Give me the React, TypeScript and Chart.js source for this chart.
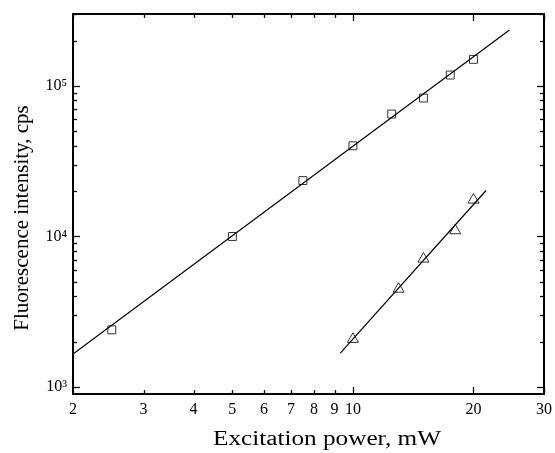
import React, { useEffect, useRef } from "react";
import { Chart, registerables } from "chart.js";

Chart.register(...registerables);

// ---- data ----
const squareX = [2.5, 5, 7.5, 10, 12.5, 15, 17.5, 20];
const squareY = [2400, 10000, 23500, 40000, 65000, 83000, 118000, 150000];
const triangleX = [10, 13, 15, 18, 20];
const triangleY = [2080, 4480, 7100, 10950, 17500];
const fit1X = [2, 24.6];
const fit1Y = [1660, 235000];
const fit2X = [9.3, 21.5];
const fit2Y = [1680, 20200];

// ---- axis ticks ----
const xLabels = [2, 3, 4, 5, 6, 7, 8, 9, 10, 20, 30];
const xMajor = [10, 20, 30];
const xMinor = [2, 3, 4, 5, 6, 7, 8, 9];
const yLabels = [1000, 10000, 100000];
const yMajor = [1000, 10000, 100000];
const yMinor = [
  2000, 3000, 4000, 5000, 6000, 7000, 8000, 9000,
  20000, 30000, 40000, 50000, 60000, 70000, 80000, 90000,
  200000, 300000,
];
const xTitle = "Excitation power, mW";
const yTitle = "Fluorescence intensity, cps";

const SUP: Record<string, string> = { "0": "⁰", "1": "¹", "2": "²", "3": "³", "4": "⁴", "5": "⁵", "6": "⁶", "7": "⁷", "8": "⁸", "9": "⁹" };
const FONT = "'Liberation Serif', 'Times New Roman', serif";

const pts = (xs: number[], ys: number[]) => xs.map((x, i) => ({ x, y: ys[i] }));

const frame = {
  id: "frameTicks",
  afterDraw(chart: any) {
    const { ctx, chartArea: a, scales } = chart;
    const xs = scales.x;
    const ys = scales.y;
    ctx.save();
    ctx.strokeStyle = "#000";
    ctx.lineWidth = 1.3;
    const tick = (x1: number, y1: number, x2: number, y2: number) => {
      ctx.beginPath();
      ctx.moveTo(x1, y1);
      ctx.lineTo(x2, y2);
      ctx.stroke();
    };
    xMajor.forEach((v) => {
      const p = Math.round(xs.getPixelForValue(v)) + 0.5;
      tick(p, a.bottom, p, a.bottom - 7);
      tick(p, a.top, p, a.top + 7);
    });
    xMinor.forEach((v) => {
      const p = Math.round(xs.getPixelForValue(v)) + 0.5;
      tick(p, a.bottom, p, a.bottom - 4);
      tick(p, a.top, p, a.top + 4);
    });
    yMajor.forEach((v) => {
      const p = Math.round(ys.getPixelForValue(v)) + 0.5;
      tick(a.left, p, a.left + 7, p);
      tick(a.right, p, a.right - 7, p);
    });
    yMinor.forEach((v) => {
      const p = Math.round(ys.getPixelForValue(v)) + 0.5;
      tick(a.left, p, a.left + 4, p);
      tick(a.right, p, a.right - 4, p);
    });
    ctx.lineWidth = 2;
    ctx.strokeRect(a.left, a.top, a.right - a.left, a.bottom - a.top);

    ctx.fillStyle = "#000";
    ctx.textAlign = "center";
    ctx.textBaseline = "middle";
    // x title (slightly wide lettering as in the reference)
    ctx.save();
    ctx.font = `20px ${FONT}`;
    const w = ctx.measureText(xTitle).width;
    const sx = 228 / w;
    ctx.translate(327, 440);
    ctx.scale(sx, 1);
    ctx.fillText(xTitle, 0, 0);
    ctx.restore();
    // y title
    ctx.font = `21px ${FONT}`;
    ctx.translate(22, 218);
    ctx.rotate(-Math.PI / 2);
    ctx.fillText(yTitle, 0, 0);
    ctx.restore();
  },
};

export default function App() {
  const ref = useRef<HTMLCanvasElement>(null);
  useEffect(() => {
    if (!ref.current) return;
    const chart = new Chart(ref.current, {
      type: "scatter",
      data: {
        datasets: [
          {
            type: "line",
            data: pts(fit1X, fit1Y),
            borderColor: "#000",
            borderWidth: 1.2,
            pointRadius: 0,
            fill: false,
          },
          {
            type: "line",
            data: pts(fit2X, fit2Y),
            borderColor: "#000",
            borderWidth: 1.2,
            pointRadius: 0,
            fill: false,
          },
          {
            data: pts(squareX, squareY),
            pointStyle: "rect",
            pointRadius: 5.6,
            borderColor: "#333",
            borderWidth: 1,
            backgroundColor: "rgba(0,0,0,0)",
            showLine: false,
          },
          {
            data: pts(triangleX, triangleY),
            pointStyle: "triangle",
            pointRadius: 6.4,
            borderColor: "#333",
            borderWidth: 1,
            backgroundColor: "rgba(0,0,0,0)",
            showLine: false,
          },
        ],
      },
      options: {
        animation: false,
        responsive: true,
        maintainAspectRatio: false,
        layout: { padding: { top: 14, right: 11, left: 0, bottom: 0 } },
        plugins: { legend: { display: false }, tooltip: { enabled: false } },
        scales: {
          x: {
            type: "logarithmic",
            min: 2,
            max: 30,
            grid: { display: false, drawTicks: false },
            border: { display: false },
            afterBuildTicks: (s: any) => {
              s.ticks = xLabels.map((v) => ({ value: v }));
            },
            afterFit: (s: any) => {
              s.height = 59;
              s.paddingLeft = 0;
              s.paddingRight = 0;
            },
            ticks: {
              autoSkip: false,
              maxRotation: 0,
              padding: 6,
              color: "#000",
              font: { family: FONT, size: 16 },
              callback: (v: any) => String(v),
            },
          },
          y: {
            type: "logarithmic",
            min: 900,
            max: 300000,
            grid: { display: false, drawTicks: false },
            border: { display: false },
            afterBuildTicks: (s: any) => {
              s.ticks = yLabels.map((v) => ({ value: v }));
            },
            afterFit: (s: any) => {
              s.width = 73;
              s.paddingTop = 0;
              s.paddingBottom = 0;
            },
            ticks: {
              autoSkip: false,
              padding: 6,
              color: "#000",
              font: { family: FONT, size: 16 },
              callback: (v: any) => {
                const e = String(Math.round(Math.log10(Number(v))));
                return "10" + e.split("").map((c) => SUP[c]).join("");
              },
            },
          },
        },
      },
      plugins: [frame],
    });
    return () => chart.destroy();
  }, []);
  return (
    <div style={{ position: "absolute", left: 0, top: 0, width: 555, height: 453 }}>
      <canvas ref={ref} />
    </div>
  );
}
